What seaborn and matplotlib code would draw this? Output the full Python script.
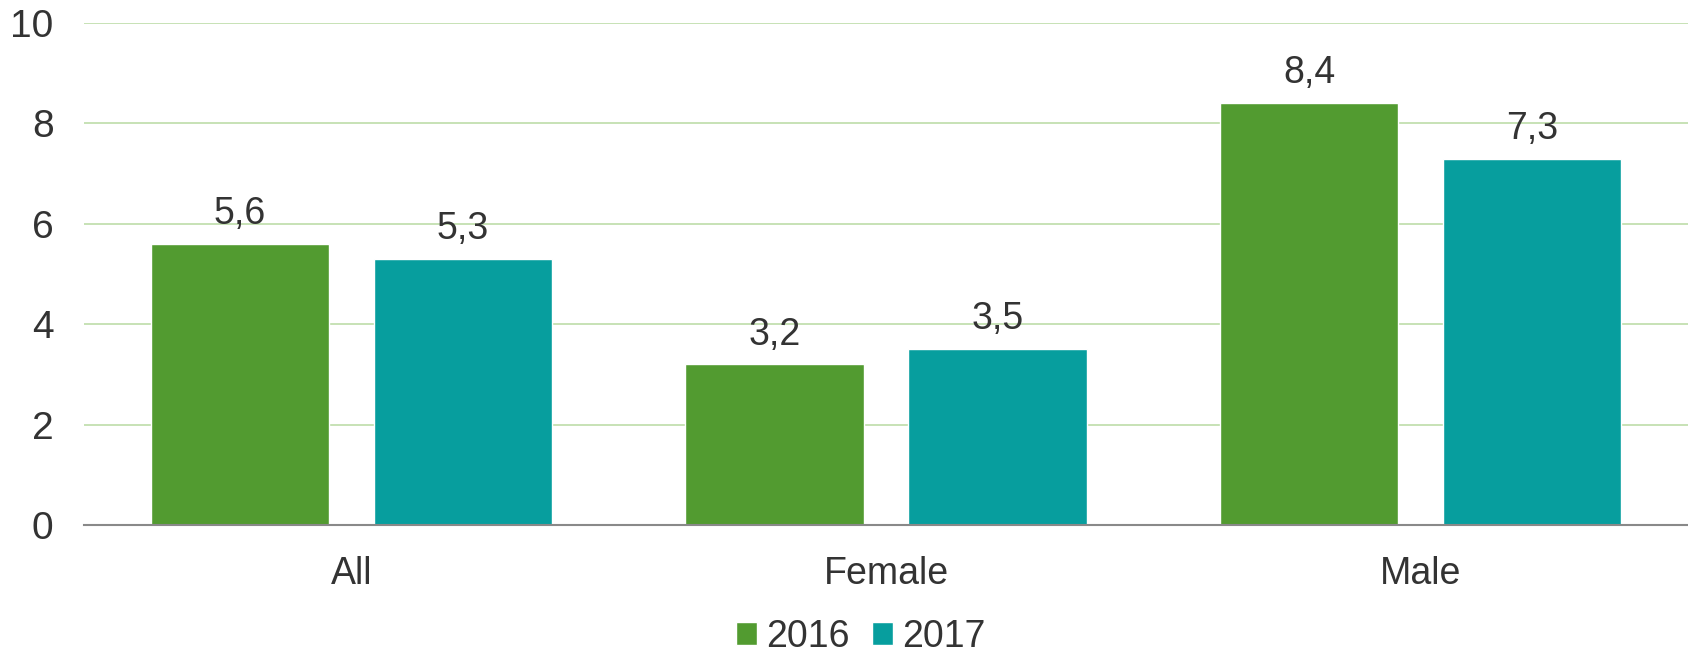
import pandas as pd
import matplotlib.pyplot as plt
import seaborn as sns

# Chart data
categories = ['All', 'Female', 'Male']
years = ['2016', '2017']
values_2016 = [5.6, 3.2, 8.4]
values_2017 = [5.3, 3.5, 7.3]
y_ticks = [0, 2, 4, 6, 8, 10]

colors = {'2016': '#529B30', '2017': '#079E9E'}
text_color = '#333333'

df = pd.DataFrame({
    'category': categories * 2,
    'year': [years[0]] * 3 + [years[1]] * 3,
    'value': values_2016 + values_2017,
})

sns.set_style('white')
plt.rcParams['font.family'] = ['Liberation Sans', 'DejaVu Sans']

fig = plt.figure(figsize=(16.88, 6.52), dpi=100)
ax = fig.add_axes([0.0498, 0.1948, 0.9502, 0.770])

sns.barplot(data=df, x='category', y='value', hue='year', palette=colors,
            width=0.834, gap=0.2, saturation=1, ax=ax, legend=True)

# Value labels with decimal comma
for cont in ax.containers:
    labels = [f'{v:.1f}'.replace('.', ',') for v in cont.datavalues]
    ax.bar_label(cont, labels=labels, padding=8.5, fontsize=27, color=text_color)

ax.set_ylim(0, 10)
ax.set_xlim(-0.5, 2.5)
ax.set_yticks(y_ticks)
ax.set_yticklabels([str(t) for t in y_ticks])
ax.yaxis.grid(True, color='#C3DFB0', linewidth=1.3)
ax.set_axisbelow(True)
ax.tick_params(axis='y', length=0, pad=22, labelsize=28, labelcolor=text_color)
ax.tick_params(axis='x', length=0, pad=22, labelsize=27, labelcolor=text_color)
ax.set_xlabel('')
ax.set_ylabel('')

for side in ['top', 'right', 'left']:
    ax.spines[side].set_visible(False)
ax.spines['bottom'].set_color('#898989')
ax.spines['bottom'].set_linewidth(1.5)

handles, labels = ax.get_legend_handles_labels()
ax.get_legend().remove()
fig.legend(handles, labels, loc='lower center', bbox_to_anchor=(0.51, -0.056),
           ncol=2, frameon=False, fontsize=27, handlelength=0.55,
           handleheight=0.55, handletextpad=0.25, columnspacing=0.6,
           labelcolor=text_color)

fig.savefig('out.png', dpi=100)
